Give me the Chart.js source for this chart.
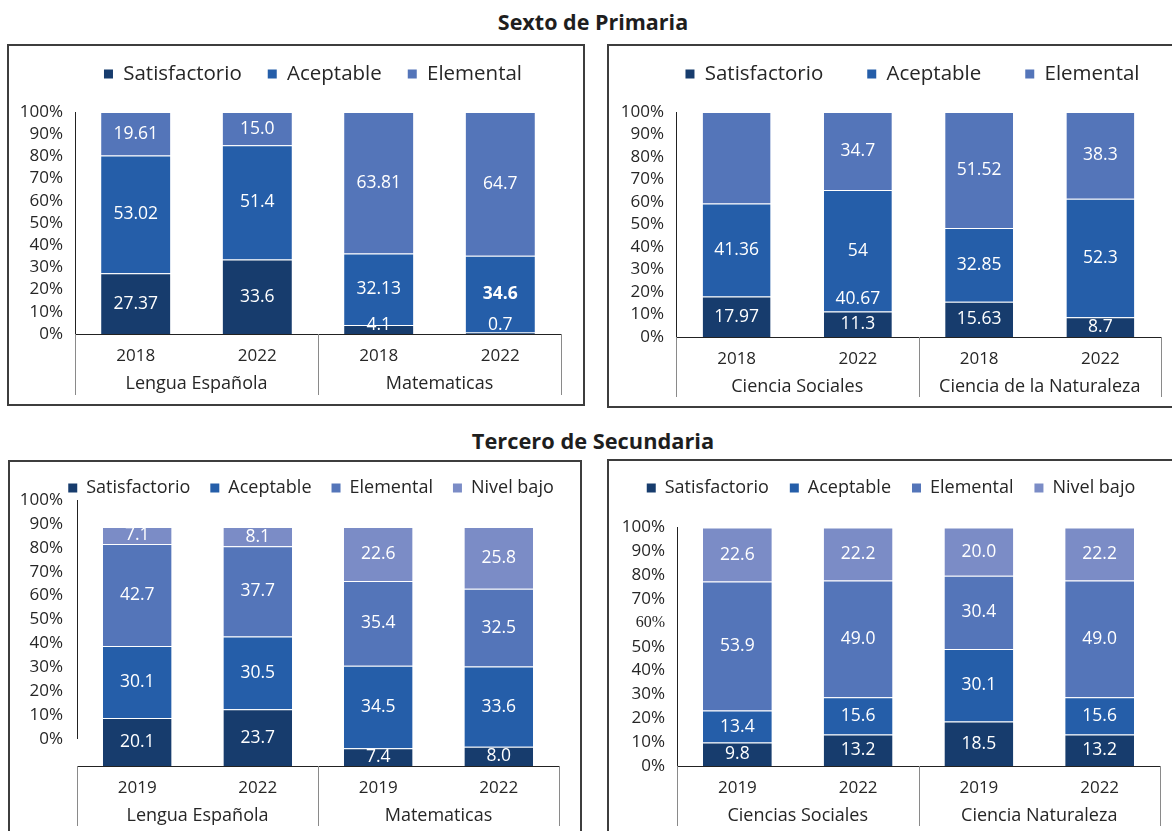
<!DOCTYPE html>
<html><head><meta charset="utf-8">
<script src="https://cdn.jsdelivr.net/npm/chart.js@4.4.1/dist/chart.umd.min.js"></script>
<style>
html,body{margin:0;padding:0;background:#fff;width:1172px;height:831px;overflow:hidden;position:relative;font-family:'Open Sans',sans-serif;}
.title{position:absolute;left:0;width:1186px;text-align:center;font-weight:700;color:#1e1e1e;line-height:26px;}
.panel{position:absolute;border:2px solid #3d3d3d;box-sizing:border-box;}
canvas{position:absolute;left:0;top:0;}
</style></head><body>
<div class="title" style="top:9px;font-size:21.5px">Sexto de Primaria</div>
<div class="title" style="top:428px;font-size:21.8px">Tercero de Secundaria</div>
<div class="panel" style="left:7px;top:44px;width:578px;height:362px"></div>
<div class="panel" style="left:607px;top:44px;width:580px;height:364px"></div>
<div class="panel" style="left:8px;top:460px;width:574px;height:390px"></div>
<div class="panel" style="left:607px;top:459px;width:580px;height:390px"></div>
<canvas id="c1" width="1400" height="831" style="width:1400px;height:831px"></canvas>
<canvas id="c2" width="1400" height="831" style="width:1400px;height:831px"></canvas>
<canvas id="c3" width="1400" height="831" style="width:1400px;height:831px"></canvas>
<canvas id="c4" width="1400" height="831" style="width:1400px;height:831px"></canvas>
<script>
// ---------- DATA ----------
// Sexto de Primaria
const tlYears = ['2018', '2022', '2018', '2022'];
const tlSubjects = ['Lengua Española', 'Matematicas'];
const tlSatisfactorio = ['27.37', '33.6', '4.1', '0.7'];
const tlAceptable = ['53.02', '51.4', '32.13', '34.6'];
const tlElemental = ['19.61', '15.0', '63.81', '64.7'];

const trYears = ['2018', '2022', '2018', '2022'];
const trSubjects = ['Ciencia Sociales', 'Ciencia de la Naturaleza'];
const trSatisfactorio = ['17.97', '11.3', '15.63', '8.7'];
const trAceptable = ['41.36', '54', '32.85', '52.3'];
const trElemental = ['40.67', '34.7', '51.52', '38.3'];

// Tercero de Secundaria
const blYears = ['2019', '2022', '2019', '2022'];
const blSubjects = ['Lengua Española', 'Matematicas'];
const blSatisfactorio = ['20.1', '23.7', '7.4', '8.0'];
const blAceptable = ['30.1', '30.5', '34.5', '33.6'];
const blElemental = ['42.7', '37.7', '35.4', '32.5'];
const blNivelBajo = ['7.1', '8.1', '22.6', '25.8'];

const brYears = ['2019', '2022', '2019', '2022'];
const brSubjects = ['Ciencias Sociales', 'Ciencia Naturaleza'];
const brSatisfactorio = ['9.8', '13.2', '18.5', '13.2'];
const brAceptable = ['13.4', '15.6', '30.1', '15.6'];
const brElemental = ['53.9', '49.0', '30.4', '49.0'];
const brNivelBajo = ['22.6', '22.2', '20.0', '22.2'];

const levels3 = ['Satisfactorio', 'Aceptable', 'Elemental'];
const levels4 = ['Satisfactorio', 'Aceptable', 'Elemental', 'Nivel bajo'];
const yTickValues = [0, 10, 20, 30, 40, 50, 60, 70, 80, 90, 100];

// ---------- STYLE ----------
const FONT = "'Open Sans', 'Liberation Sans', sans-serif";
const TEXT = '#262626';
const COLORS = { 'Satisfactorio': '#173c6d', 'Aceptable': '#255ea9', 'Elemental': '#5475b9', 'Nivel bajo': '#7b8cc6' };
const CW = 1400, CH = 831;

// ---------- PLUGINS ----------
const spacer = {
  id: 'spacer',
  beforeInit(chart) {
    const mk = (pos) => ({
      position: pos, weight: 0, fullSize: false, options: {},
      top: 0, left: 0, right: 0, bottom: 0, width: 0, height: 0,
      isHorizontal() { return pos === 'top' || pos === 'bottom'; },
      update(maxW, maxH) {
        const o = chart.options.plugins.spacer || {};
        if (this.isHorizontal()) { this.width = maxW; this.height = o[pos] || 0; }
        else { this.width = o[pos] || 0; this.height = maxH; }
      },
      draw() {}
    });
    Chart.layouts.addBox(chart, mk('top'));
    Chart.layouts.addBox(chart, mk('right'));
  }
};

const groupAxis = {
  id: 'groupAxis',
  afterDraw(chart, args, o) {
    const { ctx, chartArea: ca, scales } = chart;
    const x = scales.x;
    const step = x.getPixelForValue(1) - x.getPixelForValue(0);
    const subjects = o.subjects;
    const per = chart.data.labels.length / subjects.length;
    ctx.save();
    ctx.fillStyle = TEXT;
    ctx.font = '18px ' + FONT;
    ctx.textAlign = 'center';
    ctx.textBaseline = 'middle';
    const edges = [];
    subjects.forEach((s, g) => {
      const left = x.getPixelForValue(g * per) - step / 2;
      const right = x.getPixelForValue(g * per + per - 1) + step / 2;
      edges.push(left);
      if (g === subjects.length - 1) edges.push(right);
      ctx.fillText(s, (left + right) / 2, ca.bottom + o.labelOffset);
    });
    ctx.strokeStyle = '#8a8a8a';
    ctx.lineWidth = 1;
    edges.forEach(e => {
      const xx = Math.round(e) + 0.5;
      ctx.beginPath(); ctx.moveTo(xx, ca.bottom); ctx.lineTo(xx, ca.bottom + o.lineLength); ctx.stroke();
    });
    if (scales.y2) {
      const xx = Math.round(ca.left) + 0.5;
      ctx.strokeStyle = '#222';
      ctx.beginPath();
      ctx.moveTo(xx, scales.y2.getPixelForValue(100));
      ctx.lineTo(xx, scales.y2.getPixelForValue(0));
      ctx.stroke();
    }
    ctx.restore();
  }
};

const valueLabels = {
  id: 'valueLabels',
  afterDatasetsDraw(chart, args, o) {
    const { ctx } = chart;
    const moved = o.moved || [];
    const bold = o.bold || [];
    ctx.save();
    ctx.textAlign = 'center';
    ctx.textBaseline = 'middle';
    ctx.fillStyle = '#ffffff';
    chart.data.datasets.forEach((ds, d) => {
      chart.getDatasetMeta(d).data.forEach((bar, i) => {
        if (moved.some(m => m.ds === d && m.i === i)) return;
        const isBold = bold.some(b => b.ds === d && b.i === i);
        const y = Math.min((bar.y + bar.base) / 2, bar.base - 9);
        ctx.font = (isBold ? '700 ' : '') + '17.5px ' + FONT;
        ctx.fillText(ds.labelText[i], bar.x, y);
      });
    });
    moved.forEach(m => {
      ctx.font = '17.5px ' + FONT;
      ctx.fillText(chart.data.datasets[m.ds].labelText[m.i],
        chart.scales.x.getPixelForValue(m.toCat), chart.scales.y.getPixelForValue(m.toVal));
    });
    ctx.restore();
  }
};

// ---------- BUILD ----------
function pctStack(series) {
  const nums = series.map(s => s.map(Number));
  const totals = nums[0].map((_, i) => nums.reduce((a, s) => a + s[i], 0));
  return nums.map(s => s.map((v, i) => v / totals[i] * 100));
}

function makeChart(id, spec) {
  const { years, subjects, names, series, box, legend } = spec;
  const pct = pctStack(series);
  const LEG_HALF = 300;
  const padL = legend.cx - LEG_HALF;
  const padR = CW - (legend.cx + LEG_HALF);
  const rightSpacer = legend.cx + LEG_HALF - box.R;
  const yW = box.L - padL;
  const padTop = legend.cy - legend.P - legend.fs / 2;
  const natural = legend.fs + legend.P + 10;
  const avail = box.T - padTop;
  const topSpacer = Math.max(0, avail - natural);
  const XH = 60;
  const padB = CH - box.B - XH;
  const off = spec.offset || 0;

  const tickFont = (ctx) => (spec.serifTick != null && ctx.tick && ctx.tick.value === spec.serifTick)
    ? { family: "'Liberation Serif', serif", size: 16 }
    : { family: FONT, size: 17 };
  const yTicks = {
    padding: spec.tickPad || 12, color: TEXT, font: tickFont, autoSkip: false,
    callback: v => v + '%'
  };
  const keepTicks = s => { s.ticks = yTickValues.map(v => ({ value: v })); };

  const scales = {
    x: {
      stacked: true,
      grid: { display: false, drawTicks: false },
      border: { display: true, color: '#222', width: 1 },
      ticks: { padding: 12, color: TEXT, font: { family: FONT, size: 17 }, maxRotation: 0, autoSkip: false },
      afterFit: s => { s.height = XH; }
    }
  };
  if (off) {
    scales.y = { stacked: true, display: false, min: 0, max: 100 + off };
    scales.y2 = {
      type: 'linear', position: 'left', min: -off, max: 100,
      grid: { display: false, drawTicks: false }, border: { display: false },
      ticks: yTicks, afterBuildTicks: keepTicks, afterFit: s => { s.width = yW; }
    };
  } else {
    scales.y = {
      stacked: true, min: 0, max: 100,
      grid: { display: false, drawTicks: false }, border: { display: true, color: '#222', width: 1 },
      ticks: yTicks, afterBuildTicks: keepTicks, afterFit: s => { s.width = yW; }
    };
  }

  return new Chart(document.getElementById(id), {
    type: 'bar',
    data: {
      labels: years,
      datasets: names.map((n, k) => ({
        label: n,
        data: pct[k],
        labelText: series[k],
        backgroundColor: COLORS[n],
        borderColor: 'rgba(255,255,255,0.35)',
        borderWidth: { top: 1, right: 0, bottom: 0, left: 0 },
        borderSkipped: false,
        barPercentage: spec.barPct,
        categoryPercentage: 1
      }))
    },
    options: {
      responsive: false,
      animation: false,
      devicePixelRatio: 1,
      layout: { padding: { left: padL, right: padR, top: padTop, bottom: padB } },
      scales,
      plugins: {
        legend: {
          position: 'top', align: 'center',
          maxHeight: natural > avail ? avail : undefined,
          labels: {
            boxWidth: 9, boxHeight: 9, padding: legend.P, color: TEXT,
            font: { family: FONT, size: legend.fs },
            generateLabels: (chart) => Chart.defaults.plugins.legend.labels.generateLabels(chart)
              .map(l => Object.assign(l, { lineWidth: 0, strokeStyle: 'rgba(0,0,0,0)' }))
          }
        },
        tooltip: { enabled: false },
        spacer: { top: topSpacer, right: rightSpacer },
        groupAxis: { subjects, labelOffset: 50, lineLength: spec.lineLength || 61 },
        valueLabels: { bold: spec.bold || [], moved: spec.moved || [] }
      }
    },
    plugins: [spacer, groupAxis, valueLabels]
  });
}

makeChart('c1', {
  years: tlYears, subjects: tlSubjects, names: levels3,
  series: [tlSatisfactorio, tlAceptable, tlElemental],
  box: { L: 75, R: 561, T: 112, B: 334 },
  legend: { cx: 313, cy: 74, fs: 20.5, P: 26 },
  barPct: 0.57, lineLength: 61,
  bold: [{ ds: 1, i: 3 }]
});
makeChart('c2', {
  years: trYears, subjects: trSubjects, names: levels3,
  series: [trSatisfactorio, trAceptable, trElemental],
  box: { L: 676, R: 1161, T: 112, B: 337 },
  legend: { cx: 912.5, cy: 74, fs: 20.5, P: 44 },
  barPct: 0.56, lineLength: 60,
  moved: [{ ds: 2, i: 0, toCat: 1, toVal: 17 }]
});
makeChart('c3', {
  years: blYears, subjects: blSubjects, names: levels4,
  series: [blSatisfactorio, blAceptable, blElemental, blNivelBajo],
  box: { L: 77, R: 559, T: 500, B: 766 },
  legend: { cx: 311, cy: 488, fs: 18, P: 20 },
  barPct: 0.57, lineLength: 60, offset: 11.3, tickPad: 14
});
makeChart('c4', {
  years: brYears, subjects: brSubjects, names: levels4,
  series: [brSatisfactorio, brAceptable, brElemental, brNivelBajo],
  box: { L: 677, R: 1160, T: 527.5, B: 766 },
  legend: { cx: 891, cy: 488, fs: 18, P: 21 },
  barPct: 0.57, lineLength: 60, serifTick: 60
});
</script>
</body></html>
